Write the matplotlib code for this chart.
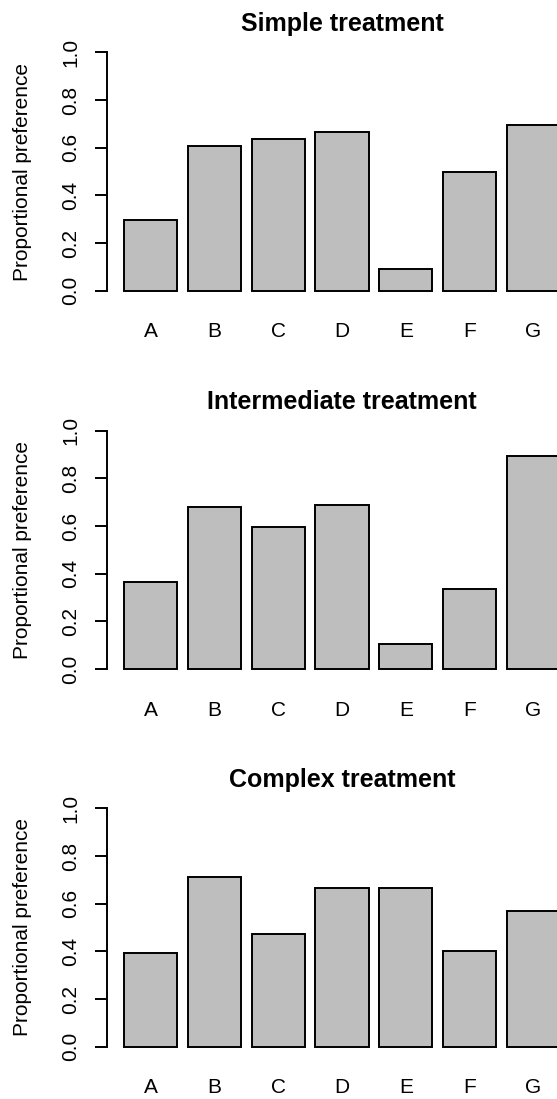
import matplotlib
matplotlib.use('Agg')
import matplotlib.pyplot as plt

# proportional preference per stimulus, one list per treatment
categories = ['A', 'B', 'C', 'D', 'E', 'F', 'G']
simple = [0.295, 0.607, 0.637, 0.666, 0.092, 0.500, 0.694]
intermediate = [0.365, 0.681, 0.597, 0.689, 0.103, 0.335, 0.893]
complex_ = [0.394, 0.712, 0.471, 0.667, 0.667, 0.400, 0.568]
titles = ['Simple treatment', 'Intermediate treatment', 'Complex treatment']
yticks = [0.0, 0.2, 0.4, 0.6, 0.8, 1.0]

plt.rcParams['font.family'] = ['Liberation Sans', 'DejaVu Sans']

W, H = 557, 1099
fig = plt.figure(figsize=(W / 100, H / 100), dpi=100)

# R-style barplot geometry: width 1, space 0.2
xpos = [0.7 + 1.2 * i for i in range(len(categories))]

left_px, width_px, height_px = 106.5, 471, 257.4
bottoms_px = [798.8, 420.5, 42.8]

for title, vals, b in zip(titles, [simple, intermediate, complex_], bottoms_px):
    ax = fig.add_axes([left_px / W, b / H, width_px / W, height_px / H])
    ax.bar(xpos, vals, width=1.0, color='#bebebe', edgecolor='black', linewidth=1.4)
    ax.set_xlim(-0.128, 8.728)
    ax.set_ylim(-0.04, 1.04)
    for s in ['top', 'right', 'bottom']:
        ax.spines[s].set_visible(False)
    ax.spines['left'].set_bounds(0, 1)
    ax.spines['left'].set_linewidth(1.4)
    ax.set_yticks(yticks)
    ax.set_yticklabels(['%.1f' % t for t in yticks], rotation=90, va='center', fontsize=15)
    ax.tick_params(axis='y', length=9, width=1.4, pad=10)
    ax.set_xticks(xpos)
    ax.set_xticklabels(categories, fontsize=15)
    ax.tick_params(axis='x', length=0, pad=16)
    ax.set_ylabel('Proportional preference', fontsize=15, labelpad=21)
    ax.set_title(title, fontsize=18, fontweight='bold', pad=8.5)

fig.savefig('out.png', dpi=100)
